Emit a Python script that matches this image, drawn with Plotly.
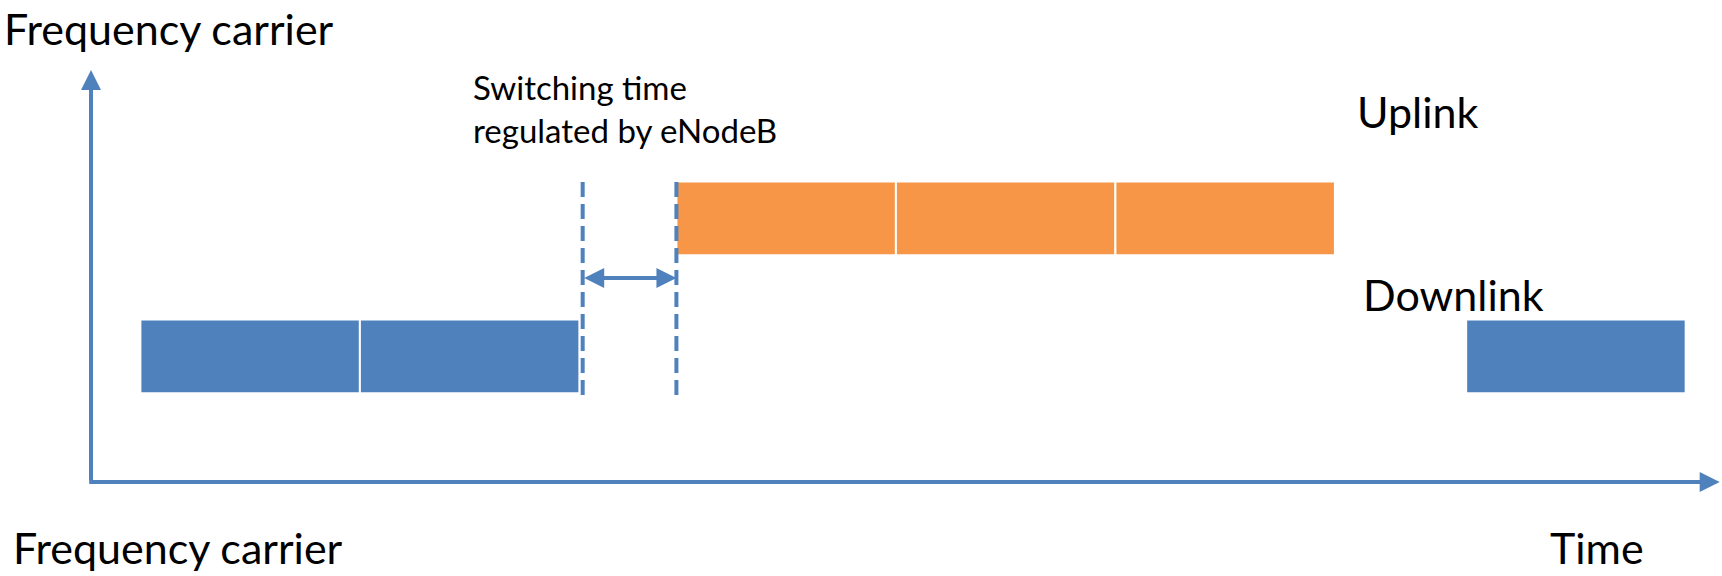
import plotly.graph_objects as go

# ---- data (time in subframes, frequency in carrier units) ----
dl_starts = [0.225, 1.225, 6.265]
dl_durations = [1.0, 1.0, 1.0]
dl_level = 0.91
ul_starts = [2.667, 3.667, 4.667]
ul_durations = [1.0, 1.0, 1.0]
ul_level = 1.91
band_height = 0.535
switch_start = 2.24
switch_end = 2.667
switch_line_bottom = 0.63
switch_line_top = 2.19
switch_arrow_level = 1.478
time_axis_end = 7.42
freq_axis_end = 2.986

BLUE = "#4F81BD"
ORANGE = "#F79646"
FONT = "Lato"

W, H = 1722, 576
x_range = [-0.4146, 7.4305]
y_range = [-0.681, 3.493]

fig = go.Figure()

fig.add_trace(go.Bar(
    orientation="h", y=[dl_level] * len(dl_starts), x=dl_durations, base=dl_starts,
    width=band_height, marker=dict(color=BLUE, line=dict(color="white", width=2)),
    hoverinfo="skip", showlegend=False))
fig.add_trace(go.Bar(
    orientation="h", y=[ul_level] * len(ul_starts), x=ul_durations, base=ul_starts,
    width=band_height, marker=dict(color=ORANGE, line=dict(color="white", width=2)),
    hoverinfo="skip", showlegend=False))

for xs in (switch_start, switch_end):
    fig.add_trace(go.Scatter(
        x=[xs, xs], y=[switch_line_bottom, switch_line_top], mode="lines",
        line=dict(color=BLUE, width=4, dash="15px,7px"),
        hoverinfo="skip", showlegend=False))

annotations = []
# axes arrows
annotations.append(dict(x=0, y=freq_axis_end, ax=0, ay=0, xref="x", yref="y",
                        axref="x", ayref="y", text="", showarrow=True,
                        arrowhead=2, arrowsize=1, arrowwidth=4, arrowcolor=BLUE, standoff=0))
annotations.append(dict(x=time_axis_end, y=0, ax=-0.015, ay=0, xref="x", yref="y",
                        axref="x", ayref="y", text="", showarrow=True,
                        arrowhead=2, arrowsize=1, arrowwidth=4, arrowcolor=BLUE, standoff=0))
# switching double arrow
annotations.append(dict(x=switch_end, y=switch_arrow_level, ax=switch_start, ay=switch_arrow_level,
                        xref="x", yref="y", axref="x", ayref="y", text="", showarrow=True,
                        arrowhead=2, arrowside="end+start", arrowsize=1, arrowwidth=4,
                        arrowcolor=BLUE, standoff=0, startstandoff=0))

def label(text, px, py, size, yanchor="middle"):
    return dict(text=text, x=px / W, y=1 - py / H, xref="paper", yref="paper",
                xanchor="left", yanchor=yanchor, showarrow=False, align="left",
                font=dict(family=FONT, size=size, color="black"))

annotations.append(label("Frequency carrier", 2, 1, 43, yanchor="top"))
annotations.append(label("Switching time<br>regulated by eNodeB", 471, 108, 33))
annotations.append(label("Uplink", 1355, 111, 43))
annotations.append(label("Downlink", 1361, 294, 43))
annotations.append(label("Time", 1548, 575, 43, yanchor="bottom"))
annotations.append(label("Frequency carrier", 11, 575, 43, yanchor="bottom"))

fig.update_layout(
    width=W, height=H, margin=dict(l=0, r=0, t=0, b=0),
    paper_bgcolor="white", plot_bgcolor="white", barmode="overlay",
    xaxis=dict(range=x_range, visible=False, fixedrange=True),
    yaxis=dict(range=y_range, visible=False, fixedrange=True),
    annotations=annotations, showlegend=False,
)

fig.write_html("out.html", config={"displayModeBar": False})
